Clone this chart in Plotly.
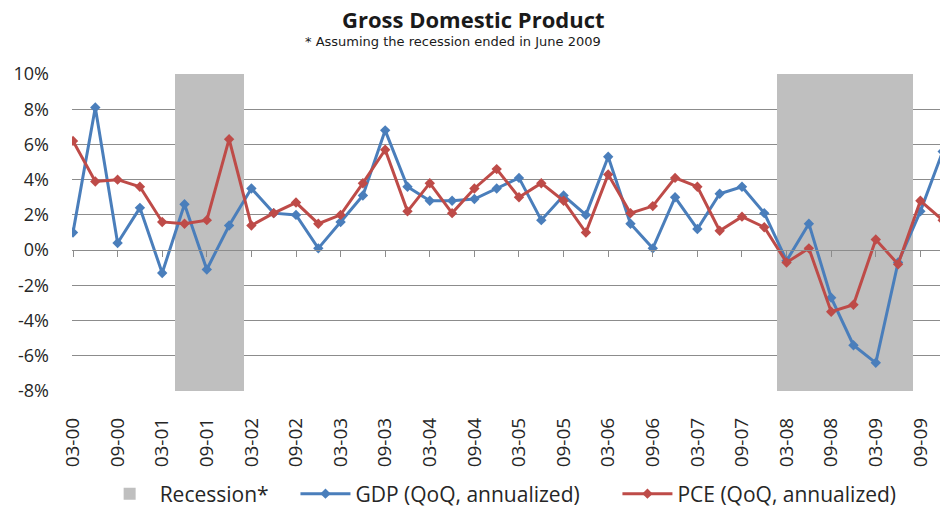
import plotly.graph_objects as go

# ---- data ----
years = ["00", "01", "02", "03", "04", "05", "06", "07", "08", "09"]
months = ["03", "06", "09", "12"]
quarters = [f"{m}-{y}" for y in years for m in months]  # 40 quarters

gdp = [1.0, 8.1, 0.4, 2.4, -1.3, 2.6, -1.1, 1.4,
       3.5, 2.1, 2.0, 0.1, 1.6, 3.1, 6.8, 3.6,
       2.8, 2.8, 2.9, 3.5, 4.1, 1.7, 3.1, 2.0,
       5.3, 1.5, 0.1, 3.0, 1.2, 3.2, 3.6, 2.1,
       -0.6, 1.5, -2.7, -5.4, -6.4, -0.7, 2.2, 5.6]
pce = [6.2, 3.9, 4.0, 3.6, 1.6, 1.5, 1.7, 6.3,
       1.4, 2.1, 2.7, 1.5, 2.0, 3.8, 5.7, 2.2,
       3.8, 2.1, 3.5, 4.6, 3.0, 3.8, 2.8, 1.0,
       4.3, 2.1, 2.5, 4.1, 3.6, 1.1, 1.9, 1.3,
       -0.7, 0.1, -3.5, -3.1, 0.6, -0.8, 2.8, 1.7]
recession = [0, 0, 0, 0, 0, 1, 1, 1,
             0, 0, 0, 0, 0, 0, 0, 0,
             0, 0, 0, 0, 0, 0, 0, 0,
             0, 0, 0, 0, 0, 0, 0, 0,
             1, 1, 1, 1, 1, 1, 0, 0]
tick_labels = [q for q in quarters if q.startswith("03") or q.startswith("09")]
y_min, y_max = -8, 10

idx = list(range(len(quarters)))
tick_idx = [i for i, q in enumerate(quarters) if q in tick_labels]
rec_x = [i for i in idx if recession[i]]

FONT = "Open Sans"
GRID = "#8c8c8c"
BLUE = "#4a7ebb"
RED = "#be4b48"
NB = "\u00a0"

fig = go.Figure()
fig.add_trace(go.Bar(
    x=rec_x, y=[y_max - y_min] * len(rec_x), base=y_min,
    width=1.1, offset=-0.42, marker=dict(color="#bfbfbf", line=dict(width=0)),
    name="Recession*" + NB * 4, xaxis="x", yaxis="y", hoverinfo="skip",
))
fig.add_trace(go.Scatter(
    x=idx, y=gdp, mode="lines+markers", name="GDP (QoQ, annualized)" + NB * 6,
    line=dict(color=BLUE, width=3), marker=dict(symbol="diamond", size=8, color=BLUE),
    xaxis="x2", yaxis="y",
))
fig.add_trace(go.Scatter(
    x=idx, y=pce, mode="lines+markers", name="PCE (QoQ, annualized)",
    line=dict(color=RED, width=3), marker=dict(symbol="diamond", size=8, color=RED),
    xaxis="x2", yaxis="y",
))

xr = [-0.045, 38.88]
fig.update_layout(
    width=940, height=508,
    margin=dict(l=72, r=0, t=74, b=117),
    paper_bgcolor="white", plot_bgcolor="white",
    font=dict(family=FONT, color="#262626"),
    bargap=0,
    showlegend=True,
    xaxis=dict(
        range=xr, tickmode="array", tickvals=tick_idx, ticktext=tick_labels,
        tickangle=-90, showgrid=False, zeroline=False, showline=False,
        ticks="", tickfont=dict(size=19, family=FONT, color="#262626"),
        ticklabelstandoff=22,
    ),
    xaxis2=dict(
        range=xr, overlaying="x", anchor="free", position=(0 - y_min) / (y_max - y_min),
        side="bottom", tickmode="array", tickvals=tick_idx, showticklabels=False,
        ticks="outside", ticklen=6, tickcolor=GRID, tickwidth=1,
        showline=True, linecolor=GRID, linewidth=1, showgrid=False, zeroline=False,
    ),
    yaxis=dict(
        range=[y_min, y_max], tickmode="array", tickvals=list(range(y_min, y_max + 1, 2)),
        ticktext=[f"{v}%" for v in range(y_min, y_max + 1, 2)],
        showgrid=True, gridcolor=GRID, gridwidth=1, zeroline=False, showline=False,
        ticks="", tickfont=dict(size=18, family=FONT, color="#262626"),
        ticklabelstandoff=22,
    ),
    legend=dict(
        orientation="h", xref="container", yref="container",
        x=0.106, xanchor="left", y=(508 - 494) / 508, yanchor="middle",
        font=dict(size=21, family=FONT, color="#262626"),
        bgcolor="rgba(0,0,0,0)", itemwidth=50, traceorder="normal",
    ),
    annotations=[
        dict(text="<b>Gross Domestic Product</b>", xref="paper", yref="paper",
             x=(473 - 72) / 868, y=(391 - 19) / 317, xanchor="center", yanchor="middle",
             showarrow=False, font=dict(size=22, family=FONT, color="#1a1a1a")),
        dict(text="* Assuming the recession ended in June 2009", xref="paper", yref="paper",
             x=(453 - 72) / 868, y=(391 - 42) / 317, xanchor="center", yanchor="middle",
             showarrow=False, font=dict(size=13, family="DejaVu Sans", color="#1a1a1a")),
    ],
)

fig.write_html("out.html")
